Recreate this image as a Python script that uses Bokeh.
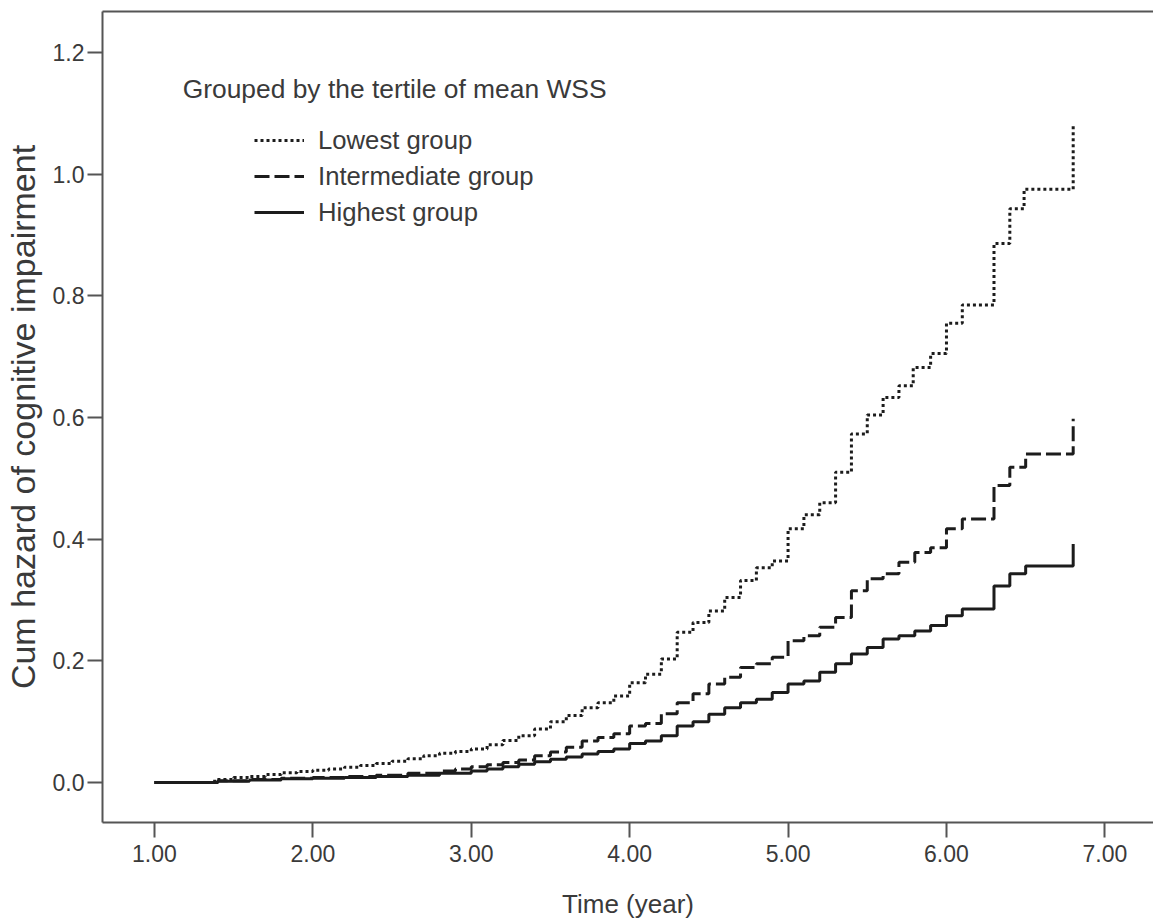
from bokeh.plotting import figure
from bokeh.models import Range1d, FixedTicker, NumeralTickFormatter, LinearAxis, Label
from bokeh.embed import file_html
from bokeh.resources import INLINE

# ---- data ----
time_lowest = [1.00, 1.38, 1.50, 1.60, 1.70, 1.80, 1.90, 2.00, 2.10, 2.20, 2.30, 2.40, 2.50,
               2.60, 2.70, 2.80, 2.90, 3.00, 3.10, 3.20, 3.30, 3.40, 3.50, 3.60, 3.70, 3.80,
               3.90, 4.00, 4.10, 4.20, 4.30, 4.40, 4.50, 4.60, 4.70, 4.80, 4.90, 5.00, 5.10,
               5.20, 5.30, 5.40, 5.50, 5.60, 5.70, 5.79, 5.90, 6.00, 6.10, 6.30, 6.40, 6.49, 6.80]
hazard_lowest = [0.000, 0.005, 0.008, 0.010, 0.013, 0.016, 0.018, 0.020, 0.022, 0.025, 0.028,
                 0.031, 0.035, 0.039, 0.044, 0.048, 0.051, 0.055, 0.062, 0.069, 0.077, 0.088,
                 0.100, 0.110, 0.123, 0.131, 0.142, 0.164, 0.178, 0.203, 0.247, 0.263, 0.282,
                 0.304, 0.332, 0.353, 0.364, 0.417, 0.440, 0.460, 0.510, 0.573, 0.604, 0.633,
                 0.652, 0.682, 0.705, 0.755, 0.785, 0.886, 0.943, 0.975, 1.082]

time_mid = [1.00, 1.40, 1.60, 1.80, 2.00, 2.20, 2.40, 2.60, 2.80, 2.90,
            3.00, 3.10, 3.20, 3.30, 3.40, 3.50, 3.60, 3.70, 3.80, 3.90,
            4.00, 4.10, 4.20, 4.30, 4.40, 4.50, 4.60, 4.70, 4.80, 4.90,
            5.00, 5.10, 5.20, 5.30, 5.40, 5.50, 5.60, 5.70, 5.80, 5.90,
            6.00, 6.10, 6.30, 6.40, 6.50, 6.80]
hazard_mid = [0.000, 0.003, 0.005, 0.007, 0.008, 0.010, 0.012, 0.015, 0.019, 0.022,
              0.026, 0.029, 0.033, 0.037, 0.044, 0.050, 0.058, 0.068, 0.074, 0.080,
              0.093, 0.097, 0.113, 0.131, 0.146, 0.162, 0.173, 0.189, 0.195, 0.206,
              0.233, 0.241, 0.255, 0.271, 0.315, 0.335, 0.343, 0.362, 0.378, 0.386,
              0.417, 0.433, 0.488, 0.518, 0.540, 0.598]

time_high = [1.00, 1.40, 1.60, 1.80, 2.00, 2.20, 2.40, 2.60, 2.80,
             3.00, 3.10, 3.20, 3.30, 3.40, 3.50, 3.60, 3.70, 3.80, 3.90,
             4.00, 4.10, 4.20, 4.30, 4.40, 4.50, 4.60, 4.70, 4.80, 4.90,
             5.00, 5.10, 5.20, 5.30, 5.40, 5.50, 5.60, 5.70, 5.80, 5.90,
             6.00, 6.10, 6.30, 6.40, 6.50, 6.80]
hazard_high = [0.000, 0.002, 0.004, 0.006, 0.007, 0.008, 0.010, 0.012, 0.015,
               0.019, 0.022, 0.026, 0.030, 0.034, 0.038, 0.042, 0.047, 0.051, 0.055,
               0.064, 0.068, 0.077, 0.093, 0.100, 0.112, 0.123, 0.131, 0.137, 0.148,
               0.162, 0.167, 0.181, 0.195, 0.211, 0.222, 0.236, 0.241, 0.249, 0.258,
               0.274, 0.285, 0.323, 0.343, 0.356, 0.392]

x_ticks = [1, 2, 3, 4, 5, 6, 7]
y_ticks = [0.0, 0.2, 0.4, 0.6, 0.8, 1.0, 1.2]
group_labels = ["Lowest group", "Intermediate group", "Highest group"]
legend_title = "Grouped by the tertile of mean WSS"
x_title = "Time (year)"
y_title = "Cum hazard of cognitive impairment"

FONT = "Liberation Sans"
TXT = "#3a3a3a"
AX = "#555555"
LINE = "#1c1c1c"

p = figure(width=1153, height=921, output_backend="svg", toolbar_location=None,
           x_range=Range1d(0.672, 7.307), y_range=Range1d(-0.0658, 1.2674),
           min_border_left=101, min_border_right=0, min_border_top=11, min_border_bottom=99)
p.outline_line_color = None
p.grid.visible = False
p.background_fill_color = "white"
p.border_fill_color = "white"

p.step(time_lowest, hazard_lowest, mode="after", line_color=LINE, line_width=3,
       line_dash="3 3", legend_label=group_labels[0])
p.step(time_mid, hazard_mid, mode="after", line_color=LINE, line_width=3,
       line_dash="15 5", legend_label=group_labels[1])
p.step(time_high, hazard_high, mode="after", line_color=LINE, line_width=3,
       legend_label=group_labels[2])

for ax in (p.xaxis[0], p.yaxis[0]):
    ax.axis_line_color = AX
    ax.axis_line_width = 2
    ax.major_tick_line_color = AX
    ax.major_tick_line_width = 2
    ax.major_tick_out = 15
    ax.major_tick_in = 0
    ax.minor_tick_out = 0
    ax.minor_tick_in = 0
    ax.major_label_text_font = FONT
    ax.major_label_text_font_size = "23px"
    ax.major_label_text_color = TXT
    ax.axis_label_text_font = FONT
    ax.axis_label_text_font_style = "normal"
    ax.axis_label_text_color = TXT

p.xaxis[0].ticker = FixedTicker(ticks=x_ticks)
p.xaxis[0].formatter = NumeralTickFormatter(format="0.00")
p.xaxis[0].major_label_standoff = 7
p.xaxis[0].axis_label = x_title
p.xaxis[0].axis_label_text_font_size = "26px"
p.xaxis[0].axis_label_standoff = 24

p.yaxis[0].ticker = FixedTicker(ticks=y_ticks)
p.yaxis[0].formatter = NumeralTickFormatter(format="0.0")
p.yaxis[0].major_label_standoff = 3
p.yaxis[0].axis_label = y_title
p.yaxis[0].axis_label_text_font_size = "34px"
p.yaxis[0].axis_label_standoff = 8

top_axis = LinearAxis(ticker=FixedTicker(ticks=[]), axis_line_color=AX, axis_line_width=2,
                      major_tick_out=0, major_tick_in=0, minor_tick_out=0, minor_tick_in=0)
p.add_layout(top_axis, "above")

p.add_layout(Label(x=1.178, y=1.140, text=legend_title, text_baseline="middle",
                   text_font=FONT, text_font_size="26.4px", text_color=TXT))

lg = p.legend[0]
lg.location = (152, 592)
lg.background_fill_alpha = 0
lg.border_line_color = None
lg.padding = 0
lg.margin = 0
lg.spacing = 0
lg.glyph_width = 50
lg.glyph_height = 36
lg.label_height = 36
lg.label_standoff = 14
lg.label_text_font = FONT
lg.label_text_font_size = "25.7px"
lg.label_text_color = TXT
lg.label_text_baseline = "middle"

open("out.html", "w").write(file_html(p, INLINE))
